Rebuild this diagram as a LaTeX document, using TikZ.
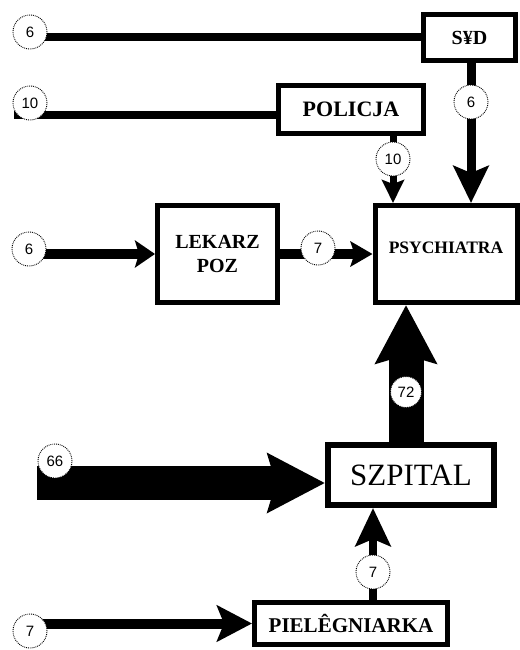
\documentclass[tikz,border=0pt]{standalone}
\usepackage{fontspec}
\setmainfont{Liberation Serif}
\newfontfamily\numfont{Liberation Sans}
\usetikzlibrary{arrows.meta,backgrounds}
\begin{document}
\begin{tikzpicture}[x=1pt,y=-1pt,
  box/.style={draw,line width=5pt,fill=white,inner sep=0pt,font=\bfseries\fontsize{20}{22}\selectfont},
  num/.style={circle,draw,densely dotted,line width=0.9pt,fill=white,minimum size=34pt,inner sep=0pt,font=\numfont\fontsize{15}{15}\selectfont},
  ]
\useasboundingbox (0,0) rectangle (519,650);
% boxes
\node[box,minimum width=92pt,minimum height=46pt] (sad) at (469.5,37.5) {S¥D};
\node[box,minimum width=145pt,minimum height=48pt,font=\bfseries\fontsize{22}{24}\selectfont] (pol) at (351,109.5) {POLICJA};
\node[box,minimum width=120pt,minimum height=97pt,align=center,font=\bfseries\fontsize{20}{24}\selectfont] (lek) at (217.5,254) {LEKARZ\\POZ};
\node[box,minimum width=142pt,minimum height=97pt,label={[font=\bfseries\fontsize{17.5}{18}\selectfont,yshift=6pt]center:PSYCHIATRA}] (psy) at (446,254) {};
\node[box,line width=6pt,minimum width=166pt,minimum height=60pt,font=\fontsize{31}{31}\selectfont] (szp) at (411,475) {SZPITAL};
\node[box,minimum width=193pt,minimum height=42pt,font=\bfseries\fontsize{21}{22}\selectfont] (pie) at (351,623.5) {PIELÊGNIARKA};
% number circles
\node[num] (n1) at (30,32) {6};
\node[num] (n2) at (30,103) {10};
\node[num] (n3) at (471,102) {6};
\node[num] (n4) at (393,159) {10};
\node[num] (n5) at (29,249) {6};
\node[num] (n6) at (318,248) {7};
\node[num,minimum size=31pt] (n7) at (406,392) {72};
\node[num] (n8) at (55,461) {66};
\node[num] (n9) at (373,572) {7};
\node[num] (n10) at (30,631) {7};
\coordinate (s66) at (37,483);
\coordinate (s10) at (14,115);
% connectors
\begin{scope}[on background layer]
\draw[line width=8pt] (n1.center |- sad.west) -- (sad.west);
\draw[line width=8pt] (s10) -- (pol.west |- s10);
\draw[line width=9pt,-{Stealth[length=37pt,width=35pt,inset=7pt]}] (sad.south -| n3) -- (psy.north -| n3);
\draw[line width=7pt,-{Stealth[length=23pt,width=22pt,inset=4pt]}] (pol.south -| n4) -- (psy.north -| n4);
\draw[line width=10pt,-{Stealth[length=20pt,width=27pt,inset=4pt]}] (n5.center |- lek.west) -- (lek.west);
\draw[line width=10pt,-{Stealth[length=22pt,width=25pt,inset=4pt]}] (lek.east) -- (psy.west |- lek.east);
\draw[line width=35pt,-{Stealth[length=58pt,width=60pt,inset=8pt]}] (szp.north -| n7) -- (psy.south -| n7);
\draw[line width=34pt,-{Stealth[length=57pt,width=58pt,inset=8pt]}] (s66) -- (szp.west |- s66);
\draw[line width=8pt,-{Stealth[length=38pt,width=35pt,inset=7pt]}] (pie.north -| n9) -- (szp.south -| n9);
\draw[line width=10pt,-{Stealth[length=35pt,width=36pt,inset=7pt]}] (n10.center |- pie.west) -- (pie.west);
\end{scope}
\end{tikzpicture}
\end{document}
